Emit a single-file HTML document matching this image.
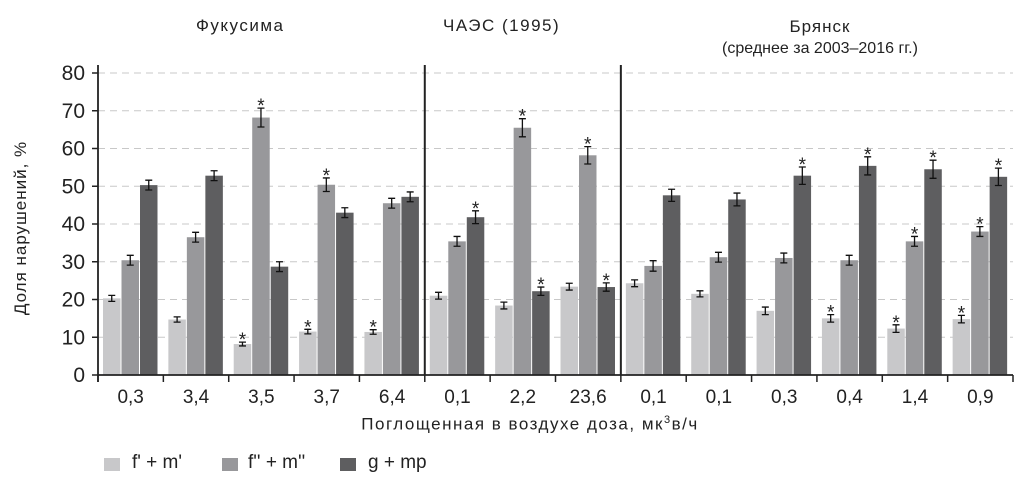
<!DOCTYPE html>
<html><head><meta charset="utf-8"><style>
body{margin:0;background:#fff;width:1024px;height:484px;overflow:hidden}
svg text{font-family:"Liberation Sans Narrow","Liberation Sans",sans-serif;fill:#222}
</style></head><body>
<svg id="c" width="1024" height="484"></svg>
<script>
const categories=["0,3","3,4","3,5","3,7","6,4","0,1","2,2","23,6","0,1","0,1","0,3","0,4","1,4","0,9"];
const seriesA=[20.3,14.7,8.2,11.5,11.4,21,18.4,23.4,24.3,21.5,17,15,12.3,14.8];
const seriesB=[30.4,36.5,68.2,50.4,45.5,35.4,65.5,58.2,28.9,31.2,31,30.4,35.4,38];
const seriesC=[50.3,52.8,28.7,43,47.2,41.8,22.2,23.3,47.6,46.5,52.8,55.4,54.5,52.5];
const errA=[0.8,0.7,0.5,0.6,0.6,0.9,0.9,0.9,0.9,0.8,1,1,1,1];
const errB=[1.3,1.3,2.5,1.8,1.3,1.3,2.4,2.3,1.4,1.3,1.3,1.3,1.3,1.3];
const errC=[1.3,1.3,1.3,1.3,1.3,1.7,1.1,1.1,1.6,1.7,2.3,2.4,2.4,2.3];
const starA=[0,0,1,1,1,0,0,0,0,0,0,1,1,1];
const starB=[0,0,1,1,0,0,1,1,0,0,0,0,1,1];
const starC=[0,0,0,0,0,1,1,1,0,0,1,1,1,1];
const yTicks=[0,10,20,30,40,50,60,70,80];
const svg=document.getElementById('c');const NS='http://www.w3.org/2000/svg';
const L=98,R=1013,B=375,T=73,gw=(R-L)/14;
const y=v=>B-(v/80)*(B-T);
const gx=i=>L+i*gw;
function mk(t,a,txt){const e=document.createElementNS(NS,t);for(const k in a)e.setAttribute(k,a[k]);if(txt!=null)e.textContent=txt;svg.appendChild(e);return e;}
yTicks.forEach(v=>{
 if(v>0){const g=mk('line',{x1:L,x2:R,y1:y(v),y2:y(v),stroke:'#c8c8c8','stroke-dasharray':'7,5'});
 
 }
 const t=mk('text',{x:85,y:y(v)+7,'text-anchor':'end','font-size':21},v);
 
 
 mk('line',{x1:92,x2:L,y1:y(v),y2:y(v),stroke:'#222','stroke-width':1.5});
});
const cols=['#c8c8ca','#98989b','#5e5e60'];
const series=[seriesA,seriesB,seriesC],errs=[errA,errB,errC],stars=[starA,starB,starC];
categories.forEach((c,i)=>{
 const x0=gx(i);
 for(let s=0;s<3;s++){
  const v=series[s][i],bx=x0+5+s*18.5,w=17.5,cx=bx+w/2;
  const r=mk('rect',{x:bx,y:y(v),width:w,height:B-y(v),fill:cols[s]});
  
  
  const e=errs[s][i];
  mk('path',{d:`M${cx},${y(v+e)}V${y(v-e)}M${cx-3.5},${y(v+e)}H${cx+3.5}M${cx-3.5},${y(v-e)}H${cx+3.5}`,stroke:'#111','stroke-width':1.3,fill:'none'});
  if(stars[s][i]){const st=mk('text',{x:cx,y:y(v+e)+4,'text-anchor':'middle','font-size':19},'*');
   
   }
 }
 mk('line',{x1:x0,x2:x0,y1:B,y2:B+7,stroke:'#222','stroke-width':1.5});
 const t=mk('text',{x:x0+gw/2,y:403,'text-anchor':'middle','font-size':19},c);
 
 
});
mk('line',{x1:R,x2:R,y1:B,y2:B+7,stroke:'#222','stroke-width':1.5});
mk('line',{x1:L,x2:L,y1:65,y2:B+7,stroke:'#222','stroke-width':1.8});
mk('line',{x1:L,x2:R,y1:B,y2:B,stroke:'#222','stroke-width':1.8});
[5,8].forEach(i=>mk('line',{x1:gx(i),x2:gx(i),y1:65,y2:B,stroke:'#222','stroke-width':2}));
</script>
<div style="position:absolute;left:0;top:0;width:1024px;height:484px;font-family:'Liberation Sans',sans-serif;color:#222">
<div style="position:absolute;left:196px;top:16px;font-size:17px;letter-spacing:1.5px">Фукусима</div>
<div style="position:absolute;left:443px;top:16px;font-size:17px;letter-spacing:1.5px">ЧАЭС (1995)</div>
<div style="position:absolute;left:700px;top:16px;width:240px;text-align:center;font-size:17px;line-height:21px;letter-spacing:1px">Брянск<br><span style="font-size:16px;letter-spacing:0;font-family:'Liberation Sans Narrow','Liberation Sans',sans-serif">(среднее за 2003–2016 гг.)</span></div>
<div style="position:absolute;left:-79px;top:218px;width:200px;text-align:center;transform:rotate(-90deg);font-size:17px;letter-spacing:1px">Доля нарушений, %</div>
<div style="position:absolute;left:300px;top:414px;width:460px;text-align:center;font-size:17px;letter-spacing:1.5px">Поглощенная в воздухе доза, мк<sup style="font-size:11px">3</sup>в/ч</div>
<div style="position:absolute;left:104px;top:456px;font-size:19px;font-family:'Liberation Sans Narrow','Liberation Sans',sans-serif">
<span style="position:absolute;left:0;top:2px;width:16px;height:13px;background:#c8c8ca"></span><span style="position:absolute;left:28px;top:-4px;white-space:nowrap">f' + m'</span>
<span style="position:absolute;left:118px;top:2px;width:16px;height:13px;background:#98989b"></span><span style="position:absolute;left:144px;top:-4px;white-space:nowrap">f'' + m''</span>
<span style="position:absolute;left:236px;top:2px;width:16px;height:13px;background:#5e5e60"></span><span style="position:absolute;left:264px;top:-4px;white-space:nowrap">g + mp</span>
</div></div>
</body></html>
